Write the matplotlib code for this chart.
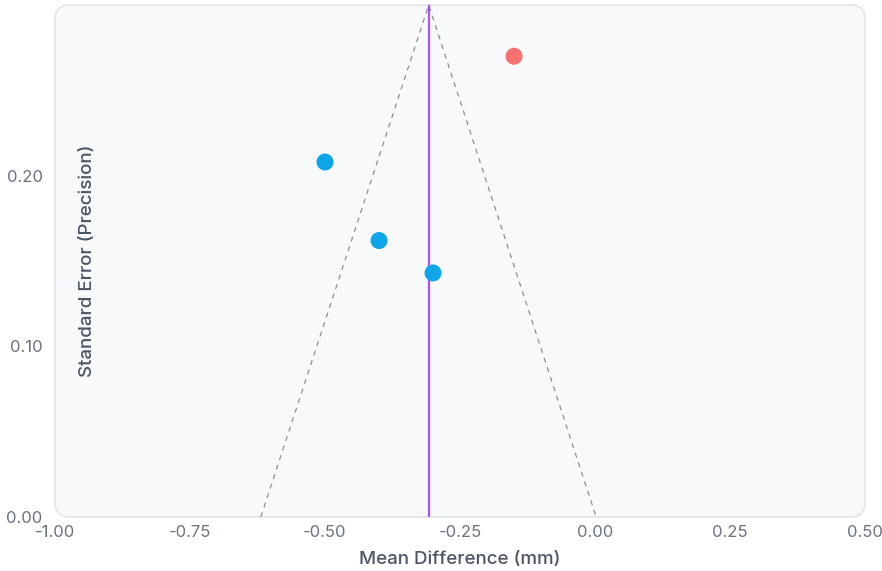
import matplotlib
matplotlib.use('Agg')
import matplotlib.pyplot as plt
from matplotlib.patches import FancyBboxPatch

plt.rcParams['font.family'] = ['Inter', 'DejaVu Sans']

# study estimates
mean_diff = [-0.50, -0.40, -0.30, -0.15]
std_err = [0.208, 0.162, 0.143, 0.270]
point_colors = ['#0ea5e9', '#0ea5e9', '#0ea5e9', '#f87171']

# pooled estimate and funnel limits
pooled = -0.308
funnel_x = [-0.619, -0.308, 0.002]
funnel_y = [0.0, 0.30, 0.0]

x_ticks = [-1.00, -0.75, -0.50, -0.25, 0.00, 0.25, 0.50]
y_ticks = [0.00, 0.10, 0.20]

fig = plt.figure(figsize=(8.82, 5.71), dpi=100)
ax = fig.add_axes([0.0624, 0.0946, 0.9184, 0.8966])
ax.set_facecolor('none')

bg = FancyBboxPatch((0, 0), 1, 1, boxstyle='round,pad=0,rounding_size=0.018',
                    transform=ax.transAxes, facecolor='#f8f9fb', edgecolor='#e3e5ea',
                    linewidth=1.2, zorder=0, clip_on=False, mutation_aspect=1.58)
ax.add_patch(bg)

ax.plot(funnel_x, funnel_y, linestyle=(0, (4, 4)), color='#8a8f99', linewidth=0.9, zorder=2)
ax.axvline(pooled, color='#a855f7', linewidth=1.6, zorder=3)
ax.scatter(mean_diff, std_err, s=150, c=point_colors, zorder=4, linewidths=0)

ax.set_xlim(-1.0, 0.5)
ax.set_ylim(0, 0.30)
ax.set_xticks(x_ticks)
ax.set_xticklabels(['%.2f' % v for v in x_ticks])
ax.set_yticks(y_ticks)
ax.set_yticklabels(['%.2f' % v for v in y_ticks])
ax.tick_params(axis='x', length=0, labelsize=12, labelcolor='#6b7280', pad=6)
ax.tick_params(axis='y', length=0, labelsize=12, labelcolor='#6b7280', pad=9)
for s in ax.spines.values():
    s.set_visible(False)

ax.set_xlabel('Mean Difference (mm)', fontsize=13.5, color='#4b5563', labelpad=8,
              fontweight='medium')
ax.text(0.04, 0.5, 'Standard Error (Precision)', transform=ax.transAxes, rotation=90,
        ha='center', va='center', fontsize=13.5, color='#4b5563', fontweight='medium')

fig.savefig('out.png', dpi=100)
